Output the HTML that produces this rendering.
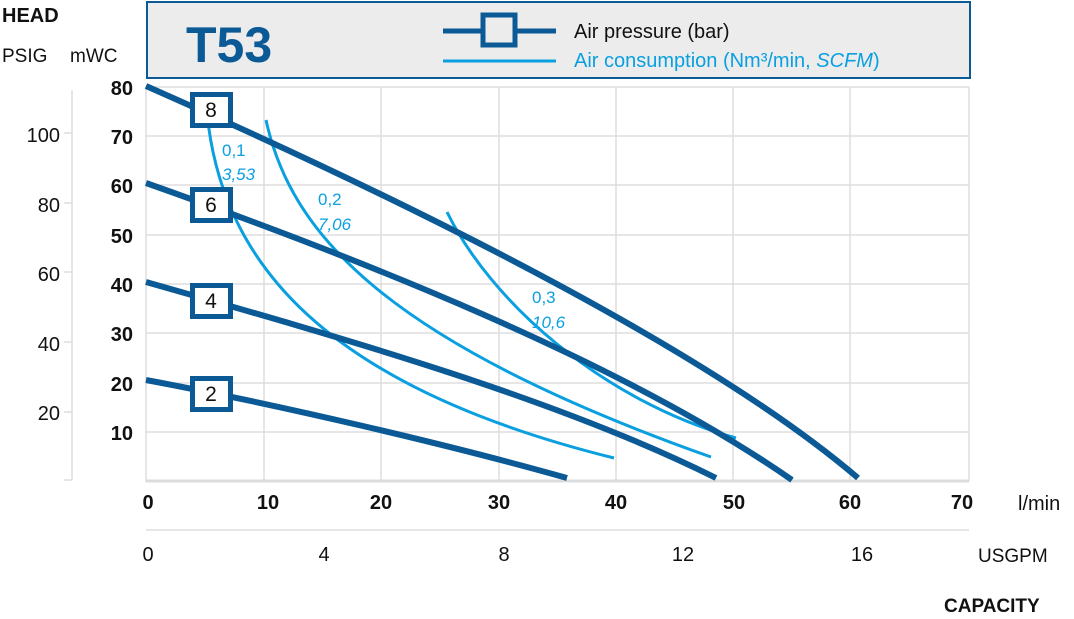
<!DOCTYPE html>
<html><head><meta charset="utf-8"><style>
body{margin:0;background:#fff}
svg{display:block;font-family:"Liberation Sans",sans-serif}
</style></head><body>
<svg width="1074" height="619" viewBox="0 0 1074 619">
<rect x="147" y="2" width="823" height="76" fill="#ececec" stroke="#0b5a96" stroke-width="2"/>
<text x="186" y="62" font-size="50" font-weight="bold" fill="#0b5a96">T53</text>
<line x1="443" y1="31" x2="556" y2="31" stroke="#0b5a96" stroke-width="5"/>
<rect x="483" y="15" width="32" height="30" fill="#ececec" stroke="#0b5a96" stroke-width="5"/>
<line x1="443" y1="61" x2="556" y2="61" stroke="#0aa0e0" stroke-width="3"/>
<text x="574" y="38" font-size="20" fill="#111">Air pressure (bar)</text>
<text x="574" y="67" font-size="20" fill="#0aa0e0">Air consumption (Nm³/min, <tspan font-style="italic">SCFM</tspan>)</text>
<text x="2" y="22" font-size="20" font-weight="bold" fill="#111">HEAD</text>
<text x="2" y="62" font-size="19" fill="#111">PSIG</text>
<text x="70" y="62" font-size="19" fill="#111">mWC</text>
<g stroke="#ddd" stroke-width="1.5">
<line x1="264" y1="87" x2="264" y2="481"/><line x1="381" y1="87" x2="381" y2="481"/><line x1="499" y1="87" x2="499" y2="481"/><line x1="616" y1="87" x2="616" y2="481"/><line x1="733" y1="87" x2="733" y2="481"/><line x1="850" y1="87" x2="850" y2="481"/><line x1="969" y1="87" x2="969" y2="481"/>
<line x1="146" y1="87" x2="969" y2="87"/><line x1="146" y1="136" x2="969" y2="136"/><line x1="146" y1="185" x2="969" y2="185"/><line x1="146" y1="235" x2="969" y2="235"/><line x1="146" y1="284" x2="969" y2="284"/><line x1="146" y1="333" x2="969" y2="333"/><line x1="146" y1="383" x2="969" y2="383"/><line x1="146" y1="432" x2="969" y2="432"/>
<line x1="146" y1="87" x2="146" y2="482"/><line x1="146" y1="481" x2="969" y2="481" stroke-width="3"/>
<line x1="72" y1="90" x2="72" y2="480"/><line x1="146" y1="530" x2="969" y2="530"/>
<line x1="64" y1="133" x2="72" y2="133"/><line x1="64" y1="203" x2="72" y2="203"/><line x1="64" y1="272" x2="72" y2="272"/><line x1="64" y1="342" x2="72" y2="342"/><line x1="64" y1="412" x2="72" y2="412"/><line x1="64" y1="480" x2="72" y2="480"/>
</g>
<g font-size="20" font-weight="bold" fill="#111" text-anchor="end">
<text x="133" y="95">80</text><text x="133" y="144">70</text><text x="133" y="193">60</text><text x="133" y="243">50</text><text x="133" y="292">40</text><text x="133" y="341">30</text><text x="133" y="391">20</text><text x="133" y="440">10</text>
</g>
<g font-size="20" fill="#111" text-anchor="end">
<text x="60" y="142">100</text><text x="60" y="212">80</text><text x="60" y="281">60</text><text x="60" y="351">40</text><text x="60" y="420">20</text>
</g>
<g font-size="20" font-weight="bold" fill="#111" text-anchor="middle">
<text x="148" y="509">0</text><text x="268" y="509">10</text><text x="381" y="509">20</text><text x="499" y="509">30</text><text x="616" y="509">40</text><text x="734" y="509">50</text><text x="850" y="509">60</text><text x="962" y="509">70</text>
</g>
<text x="1018" y="510" font-size="20" fill="#111">l/min</text>
<g font-size="20" fill="#111" text-anchor="middle">
<text x="148" y="561">0</text><text x="324" y="561">4</text><text x="504" y="561">8</text><text x="683" y="561">12</text><text x="862" y="561">16</text>
</g>
<text x="978" y="562" font-size="19" fill="#111">USGPM</text>
<text x="944" y="612" font-size="19" font-weight="bold" fill="#111">CAPACITY</text>
<g fill="none" stroke="#0aa0e0" stroke-width="3">
<path d="M208,122 C225,260 320,385 614,458"/>
<path d="M266,120 C290,230 380,340 711,457"/>
<path d="M447,212 C490,300 600,400 736,438"/>
</g>
<g fill="none" stroke="#0b5a96" stroke-width="6">
<path d="M146,380 C280,405 450,445 567,478"/>
<path d="M146,282 C350,340 560,400 716,478"/>
<path d="M146,183 C350,255 620,360 792,480"/>
<path d="M146,86 C450,220 720,360 858,478"/>
</g>
<g font-size="17" fill="#0aa0e0">
<text x="222" y="156">0,1</text><text x="222" y="180" font-style="italic">3,53</text>
<text x="318" y="205">0,2</text><text x="318" y="230" font-style="italic">7,06</text>
<text x="532" y="303">0,3</text><text x="532" y="328" font-style="italic">10,6</text>
</g>
<g fill="#fff" stroke="#0b5a96" stroke-width="5">
<rect x="192.5" y="94.5" width="38" height="31"/><rect x="192.5" y="189.5" width="38" height="31"/><rect x="192.5" y="285.5" width="38" height="31"/><rect x="192.5" y="378.5" width="38" height="31"/>
</g>
<g font-size="21" fill="#111" text-anchor="middle">
<text x="211" y="117">8</text><text x="211" y="212">6</text><text x="211" y="308">4</text><text x="211" y="401">2</text>
</g>
</svg>
</body></html>
